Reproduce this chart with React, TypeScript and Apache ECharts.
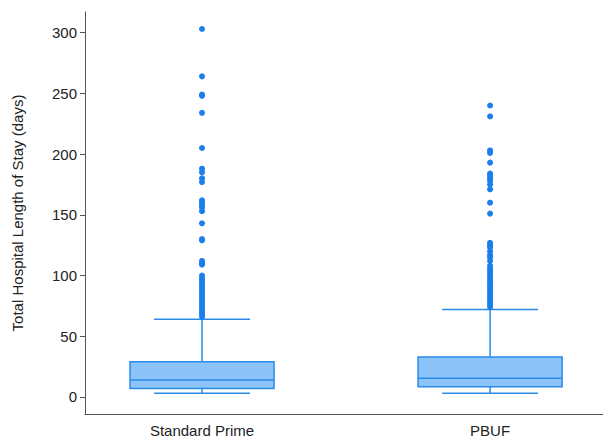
import React, { useEffect, useRef } from "react";
import * as echarts from "echarts";

const categories = ["Standard Prime", "PBUF"];
const categoryPositions = [1, 2];
// [min, Q1, median, Q3, max]
const boxStats = [
  [3, 7, 14, 29, 64],
  [3, 8.5, 15.5, 33, 72],
];
const outliersStandardPrime = [
  303, 264, 249, 248, 234, 205, 188, 185, 180, 177, 162, 160, 158, 156, 153,
  143, 130, 129, 112, 110, 109, 100, 98, 96, 94, 92, 90, 88, 86, 84, 82, 80,
  78, 76, 74, 72, 70, 68, 66,
];
const outliersPBUF = [
  240, 231, 203, 201, 193, 184, 182, 180, 178, 175, 171, 160, 151, 127, 125,
  123, 120, 117, 115, 112, 108, 106, 104, 102, 100, 98, 96, 94, 92, 90, 88, 86,
  84, 82, 80, 78, 76, 74,
];
const yTicks = [0, 50, 100, 150, 200, 250, 300];

const FONT = "'Liberation Sans', Arial, sans-serif";

export default function App() {
  const ref = useRef<HTMLDivElement>(null);
  useEffect(() => {
    if (!ref.current) return;
    const chart = echarts.init(ref.current, null, { renderer: "svg" });
    const boxData = categoryPositions.map((x, i) => [x, ...boxStats[i]]);
    const outlierData: number[][] = [];
    outliersStandardPrime.forEach((v) => outlierData.push([categoryPositions[0], v]));
    outliersPBUF.forEach((v) => outlierData.push([categoryPositions[1], v]));

    const boxWidth = 0.5;
    const capWidth = 0.333;
    const stroke = "#2b8be8";
    const fill = "#8cc4f9";

    chart.setOption({
      animation: false,
      backgroundColor: "#ffffff",
      grid: { left: 85, right: 0, top: 12, bottom: 22, containLabel: false },
      xAxis: {
        type: "value",
        min: 0.59375,
        max: 2.392,
        splitLine: { show: false },
        axisLine: { show: true, onZero: false, lineStyle: { color: "#555555", width: 1 } },
        axisTick: { show: false },
        axisLabel: {
          customValues: categoryPositions,
          formatter: (v: number) => {
            const idx = categoryPositions.indexOf(Math.round(v));
            return idx >= 0 ? categories[idx] : "";
          },
          color: "#222222",
          fontFamily: FONT,
          fontSize: 15,
          margin: 9,
        },
      },
      yAxis: {
        type: "value",
        min: -14,
        max: 317,
        name: "Total Hospital Length of Stay (days)",
        nameLocation: "middle",
        nameGap: 60,
        nameTextStyle: { color: "#222222", fontFamily: FONT, fontSize: 15 },
        splitLine: { show: false },
        axisLine: { show: true, onZero: false, lineStyle: { color: "#555555", width: 1 } },
        axisTick: {
          show: true,
          customValues: yTicks,
          length: 5,
          lineStyle: { color: "#555555" },
        },
        axisLabel: {
          customValues: yTicks,
          color: "#222222",
          fontFamily: FONT,
          fontSize: 15,
          margin: 8,
        },
      },
      series: [
        {
          type: "custom",
          data: boxData,
          encode: { x: 0, y: [1, 2, 3, 4, 5] },
          renderItem: (params: any, api: any) => {
            const x = api.value(0);
            const pMin = api.coord([x, api.value(1)]);
            const pQ1 = api.coord([x, api.value(2)]);
            const pMed = api.coord([x, api.value(3)]);
            const pQ3 = api.coord([x, api.value(4)]);
            const pMax = api.coord([x, api.value(5)]);
            const bw = api.size([boxWidth, 0])[0];
            const cw = api.size([capWidth, 0])[0];
            const cx = pMed[0];
            const lineStyle = { stroke, lineWidth: 1.5, fill: "none" };
            return {
              type: "group",
              children: [
                { type: "line", shape: { x1: cx, y1: pQ3[1], x2: cx, y2: pMax[1] }, style: lineStyle },
                { type: "line", shape: { x1: cx, y1: pQ1[1], x2: cx, y2: pMin[1] }, style: lineStyle },
                { type: "line", shape: { x1: cx - cw / 2, y1: pMax[1], x2: cx + cw / 2, y2: pMax[1] }, style: lineStyle },
                { type: "line", shape: { x1: cx - cw / 2, y1: pMin[1], x2: cx + cw / 2, y2: pMin[1] }, style: lineStyle },
                {
                  type: "rect",
                  shape: { x: cx - bw / 2, y: pQ3[1], width: bw, height: pQ1[1] - pQ3[1] },
                  style: { fill, stroke, lineWidth: 1.5 },
                },
                { type: "line", shape: { x1: cx - bw / 2, y1: pMed[1], x2: cx + bw / 2, y2: pMed[1] }, style: lineStyle },
              ],
            };
          },
          z: 2,
        },
        {
          type: "scatter",
          data: outlierData,
          symbol: "circle",
          symbolSize: 6,
          itemStyle: { color: "#1a7fec", opacity: 1 },
          z: 3,
        },
      ],
    });
    return () => chart.dispose();
  }, []);
  return (
    <div
      ref={ref}
      style={{ position: "fixed", left: 0, top: 0, width: 603, height: 438 }}
    />
  );
}
